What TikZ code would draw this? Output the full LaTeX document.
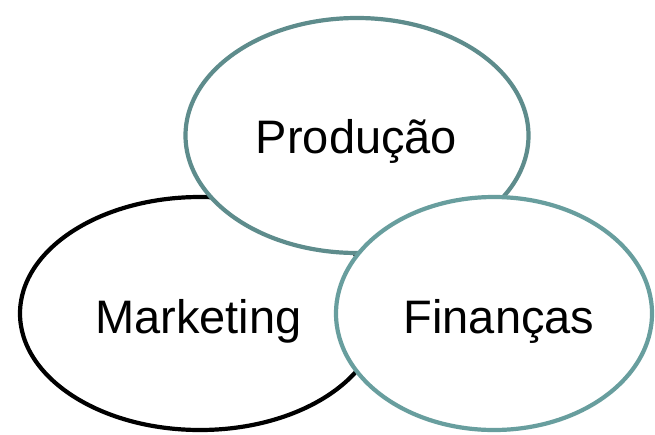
\documentclass[tikz,border=0pt]{standalone}
\usepackage{fontspec}
\setmainfont{Liberation Sans}
\usetikzlibrary{shapes.geometric}

\definecolor{tealdark}{HTML}{5E8C8C}
\definecolor{teallight}{HTML}{689E9E}

\begin{document}
\begin{tikzpicture}[x=1pt, y=-1pt,
    area/.style={ellipse, fill=white, line width=4.2pt, inner sep=0pt},
    rotulo/.style={anchor=base, inner sep=0pt, font=\fontsize{47}{56}\selectfont}]
      % Fix the page size
      \useasboundingbox (0,0) rectangle (655,434);

      % Define the vertical centres of the rows
      \def\TopRow{135.5}
      \def\BottomRow{313.5}

      % Draw the areas, back to front
      \node[area, draw=black, minimum width=360pt, minimum height=233pt] (mkt) at (200,\BottomRow) {};
      \node[area, draw=tealdark, minimum width=343pt, minimum height=235pt] (prod) at (357,\TopRow) {};
      \node[area, draw=teallight, minimum width=316pt, minimum height=233pt] (fin) at (494,\BottomRow) {};

      % Label the areas
      \node[rotulo] (tprod) at (356.5,153) {Produção};
      \node[rotulo] (tmkt) at (198.5,333) {Marketing};
      \node[rotulo] (tfin) at (499,333) {Finanças};
    \end{tikzpicture}
\end{document}
